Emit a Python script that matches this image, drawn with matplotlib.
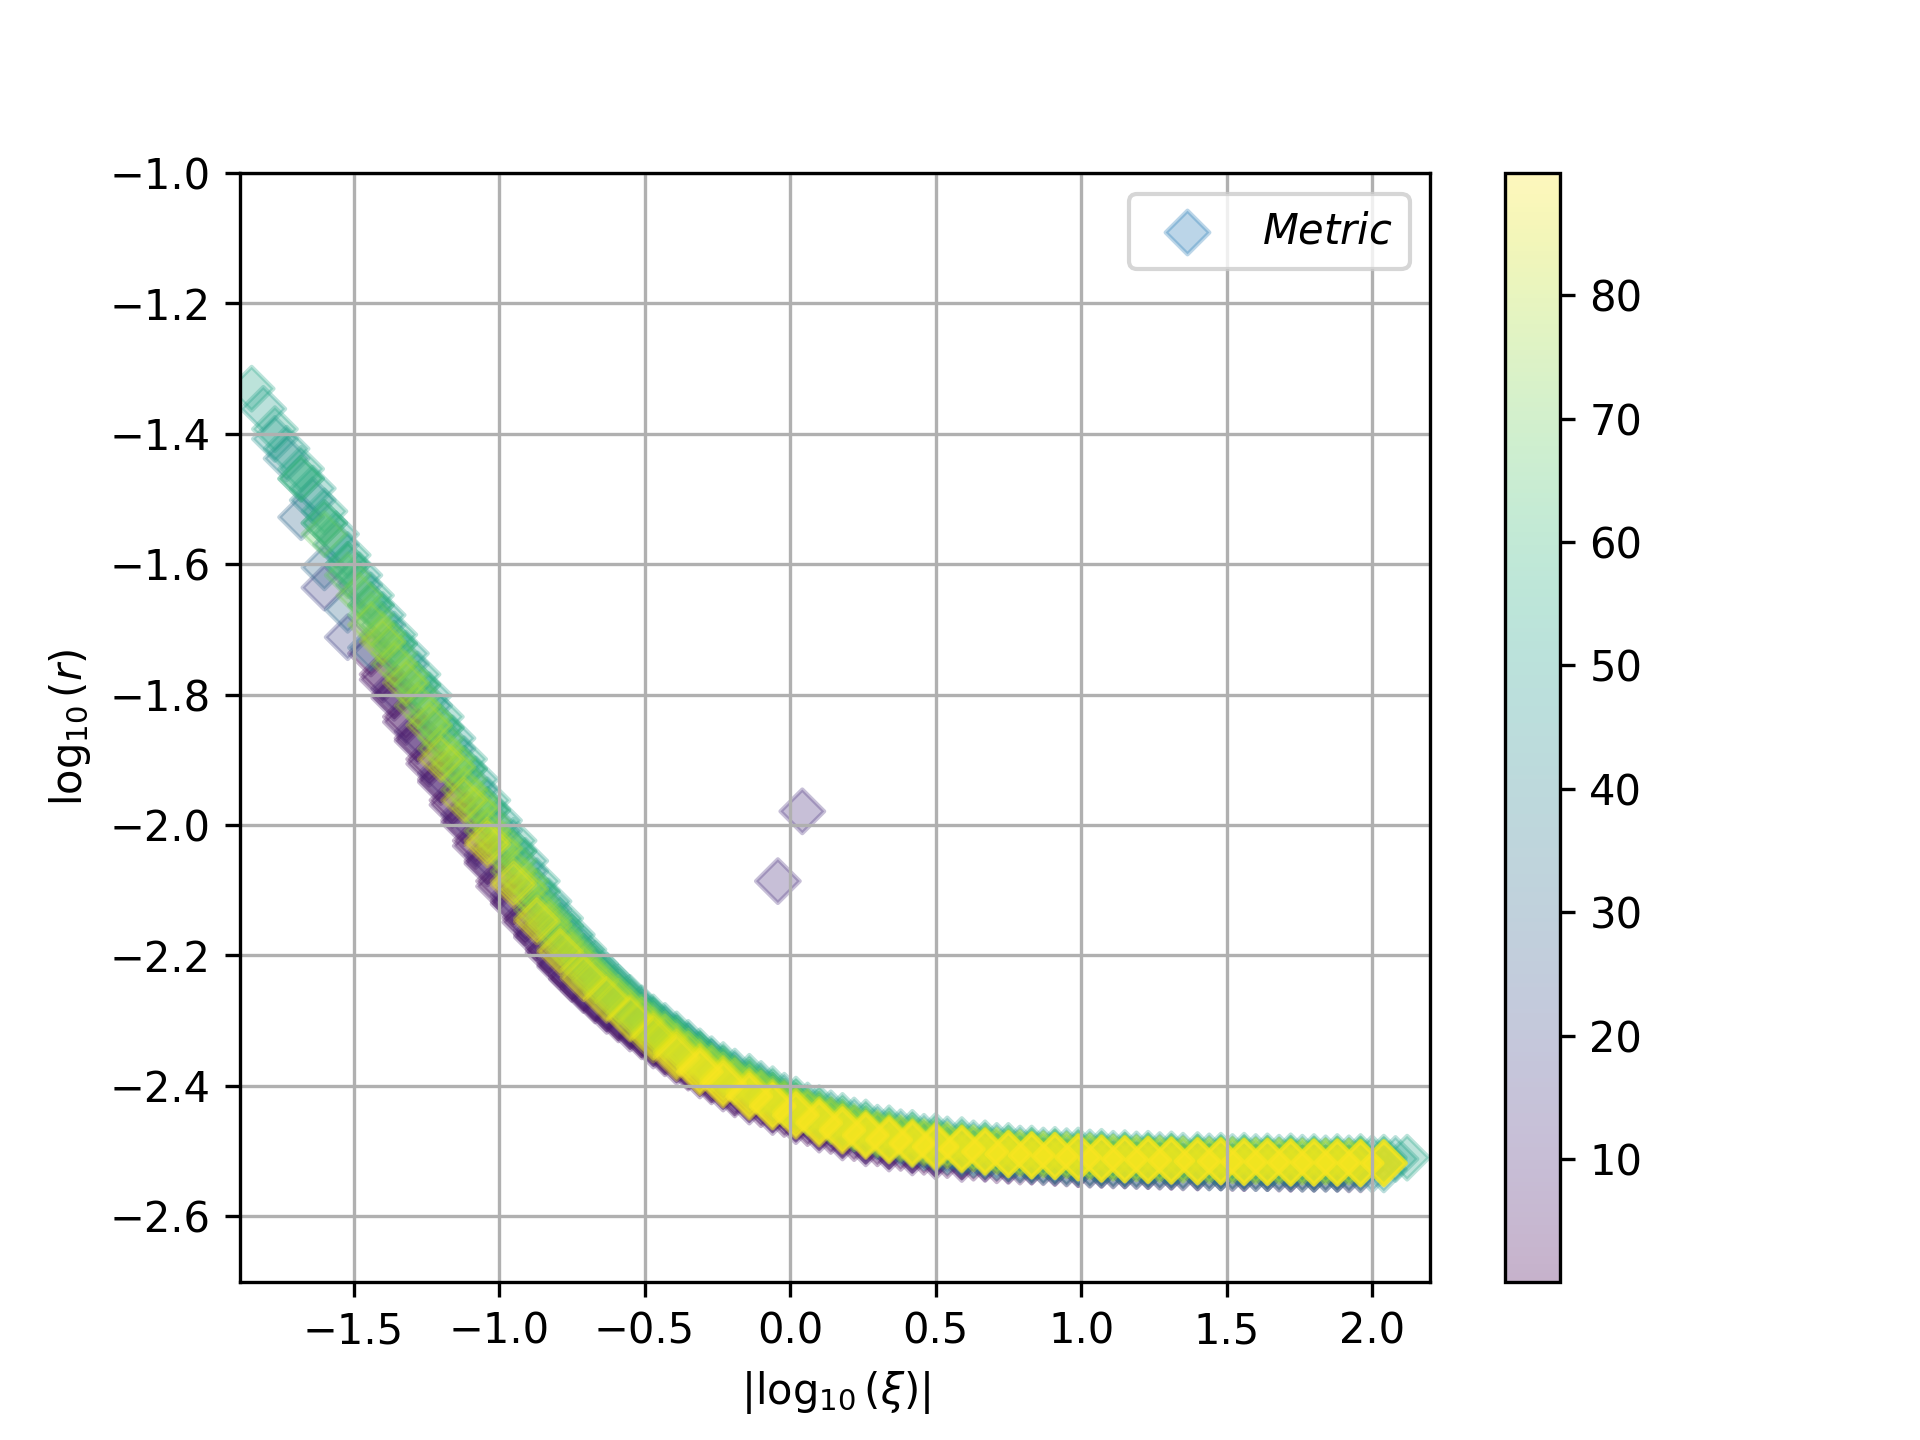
import numpy as np
import matplotlib.pyplot as plt

# |log10(xi)| sample points; XI_HALF sits half a step to the right
XI = [-1.85, -1.77, -1.68, -1.60, -1.52, -1.44, -1.36, -1.28, -1.20, -1.12,
      -1.04, -0.95, -0.87, -0.79, -0.71, -0.63, -0.55, -0.47, -0.39, -0.31,
      -0.23, -0.14, -0.06, 0.02, 0.10, 0.18, 0.26, 0.34, 0.42, 0.50,
      0.59, 0.67, 0.75, 0.83, 0.91, 0.99, 1.07, 1.15, 1.23, 1.31,
      1.40, 1.48, 1.56, 1.64, 1.72, 1.80, 1.88, 1.96, 2.04, 2.12]
XI_HALF = [-1.81, -1.73, -1.64, -1.56, -1.48, -1.40, -1.32, -1.24, -1.16, -1.08,
           -1.00, -0.91, -0.83, -0.75, -0.67, -0.59, -0.51, -0.43, -0.35, -0.27,
           -0.19, -0.10, -0.02, 0.06, 0.14, 0.22, 0.30, 0.38, 0.46, 0.54,
           0.63, 0.71, 0.79, 0.87, 0.95, 1.03, 1.11, 1.19, 1.27, 1.35,
           1.44, 1.52, 1.60, 1.68, 1.76, 1.84, 1.92, 2.00, 2.08]

# log10(r) of each angle sweep (angle in degrees -> colour)
R_01 = [-1.769, -1.834, -1.899, -1.962, -2.024, -2.086, -2.143, -2.191, -2.231, -2.265,
        -2.295, -2.321, -2.347, -2.370, -2.390, -2.410, -2.428, -2.443, -2.457, -2.469,
        -2.480, -2.488, -2.495, -2.501, -2.506, -2.510, -2.514, -2.516, -2.517, -2.519,
        -2.521, -2.522, -2.523, -2.524, -2.525, -2.525, -2.526, -2.526, -2.527, -2.527,
        -2.527, -2.528]
R_03 = [-1.737, -1.801, -1.867, -1.930, -1.993, -2.055, -2.117, -2.168, -2.213, -2.249,
        -2.281, -2.308, -2.334, -2.359, -2.380, -2.400, -2.420, -2.436, -2.450, -2.463,
        -2.475, -2.484, -2.492, -2.498, -2.504, -2.508, -2.512, -2.515, -2.516, -2.518,
        -2.520, -2.521, -2.522, -2.523, -2.524, -2.525, -2.525, -2.526, -2.526, -2.527,
        -2.527, -2.527, -2.528]
R_04 = [-1.777, -1.842, -1.906, -1.969, -2.032, -2.094, -2.149, -2.196, -2.236, -2.269,
        -2.298, -2.324, -2.350, -2.372, -2.393, -2.413]
R_06 = [-1.805, -1.871, -1.934, -1.997, -2.059, -2.121, -2.172, -2.217, -2.253, -2.285,
        -2.312, -2.338, -2.363, -2.384, -2.404, -2.424, -2.440, -2.454, -2.467, -2.479,
        -2.488, -2.496, -2.502, -2.508, -2.512]
R_09 = [-1.791, -1.857, -1.921, -1.984, -2.046, -2.108, -2.160, -2.206, -2.244, -2.276,
        -2.304, -2.330, -2.355, -2.377, -2.397, -2.417, -2.434, -2.448, -2.461, -2.473,
        -2.483, -2.491, -2.497, -2.503, -2.507, -2.511, -2.514, -2.516, -2.518, -2.520,
        -2.521, -2.522, -2.523, -2.524, -2.525, -2.525, -2.526, -2.526, -2.527, -2.527,
        -2.527]
R_18 = [-1.636, -1.712]
R_30 = [-1.528, -1.605, -1.670, -1.728]
R_40 = [-1.438, -1.502, -1.570, -1.632, -1.693, -1.753, -1.817, -1.883, -1.946, -2.009,
        -2.071, -2.130, -2.179, -2.222, -2.257, -2.288, -2.315, -2.340, -2.364, -2.385,
        -2.405, -2.424, -2.440, -2.453, -2.466, -2.477, -2.486, -2.494, -2.500, -2.505,
        -2.509, -2.513, -2.516, -2.518, -2.520, -2.521, -2.522, -2.523, -2.524, -2.525,
        -2.525, -2.526, -2.526, -2.527, -2.527, -2.527, -2.528]
R_46 = [-1.408, -1.469, -1.537, -1.601, -1.663, -1.722, -1.785, -1.851, -1.914, -1.977,
        -2.040, -2.102, -2.155, -2.202, -2.240, -2.273, -2.301, -2.328, -2.353, -2.375,
        -2.395, -2.415, -2.432, -2.447, -2.460, -2.472, -2.482, -2.490, -2.497, -2.503,
        -2.507, -2.511, -2.514, -2.516, -2.518, -2.520, -2.521, -2.522, -2.523, -2.524,
        -2.525, -2.525, -2.526, -2.526, -2.527, -2.527, -2.527, -2.528]
R_50 = [-1.362, -1.423, -1.484, -1.554, -1.617, -1.678, -1.737, -1.801, -1.867, -1.930,
        -1.993, -2.055, -2.117, -2.168, -2.213, -2.249, -2.281, -2.308, -2.334, -2.359,
        -2.378, -2.397, -2.415, -2.430, -2.442, -2.453, -2.464, -2.471, -2.478, -2.482,
        -2.488, -2.492, -2.496, -2.499, -2.500, -2.502, -2.504, -2.505, -2.506, -2.507,
        -2.508, -2.509, -2.509, -2.510, -2.510, -2.511, -2.511, -2.511, -2.512]
R_53 = [-1.331, -1.393, -1.454, -1.519, -1.586, -1.648, -1.708, -1.769, -1.834, -1.899,
        -1.962, -2.024, -2.086, -2.143, -2.191, -2.231, -2.265, -2.295, -2.321, -2.347,
        -2.368, -2.386, -2.405, -2.421, -2.434, -2.446, -2.456, -2.465, -2.472, -2.477,
        -2.483, -2.488, -2.492, -2.496, -2.498, -2.499, -2.501, -2.503, -2.504, -2.505,
        -2.506, -2.507, -2.507, -2.508, -2.508, -2.509, -2.509, -2.509, -2.510, -2.510]
R_61 = [-1.469, -1.537, -1.601, -1.663, -1.722, -1.785, -1.851, -1.914, -1.977, -2.040,
        -2.102, -2.155, -2.202, -2.240, -2.273, -2.301, -2.328, -2.353, -2.374, -2.392,
        -2.411, -2.426, -2.440, -2.452, -2.462, -2.471, -2.477, -2.483, -2.489, -2.493,
        -2.497, -2.500, -2.502, -2.504, -2.506, -2.507, -2.508, -2.509, -2.510, -2.511,
        -2.511, -2.512, -2.512, -2.513, -2.513, -2.513, -2.514]
R_68 = [-1.554, -1.617, -1.678, -1.737, -1.801, -1.867, -1.930, -1.993, -2.055, -2.117,
        -2.168, -2.213, -2.249, -2.281, -2.308, -2.334, -2.359, -2.379, -2.398, -2.416,
        -2.431, -2.444, -2.456, -2.467, -2.474, -2.481, -2.486, -2.492, -2.496, -2.500,
        -2.503, -2.504, -2.506, -2.508, -2.509, -2.510, -2.511, -2.512, -2.513, -2.513,
        -2.514, -2.514, -2.515, -2.515, -2.515]
R_72 = [-1.648, -1.708, -1.769, -1.834, -1.899, -1.962, -2.024, -2.086, -2.143, -2.191,
        -2.231, -2.265, -2.295, -2.321, -2.347, -2.370, -2.389, -2.408, -2.425, -2.439,
        -2.451, -2.462, -2.472, -2.479, -2.485, -2.490, -2.495, -2.499, -2.503, -2.505,
        -2.506, -2.508, -2.510, -2.511, -2.512, -2.513, -2.514, -2.514, -2.515, -2.515,
        -2.516, -2.516, -2.516]
R_76 = [-1.693, -1.753, -1.817, -1.883, -1.946, -2.009, -2.071, -2.130, -2.179, -2.222,
        -2.257, -2.288, -2.315, -2.340, -2.364, -2.384, -2.403, -2.421, -2.435, -2.448,
        -2.459, -2.470, -2.477, -2.484, -2.489, -2.494, -2.498, -2.502, -2.505, -2.507,
        -2.509, -2.510, -2.511, -2.512, -2.513, -2.514, -2.514, -2.515, -2.515, -2.516,
        -2.516, -2.516, -2.517]
R_79 = [-1.719, -1.782, -1.847, -1.911, -1.974, -2.036, -2.098, -2.153, -2.200, -2.238,
        -2.271, -2.300, -2.326, -2.352, -2.374, -2.393, -2.412, -2.428, -2.441, -2.454,
        -2.465, -2.474, -2.481, -2.487, -2.491, -2.496, -2.500, -2.503, -2.505, -2.506,
        -2.508, -2.510, -2.511, -2.512, -2.513, -2.514, -2.514, -2.515, -2.515, -2.516,
        -2.516, -2.516]
R_83 = [-1.899, -1.962, -2.024, -2.086, -2.143, -2.191, -2.231, -2.265, -2.295, -2.321,
        -2.347, -2.370, -2.389, -2.408, -2.425, -2.439, -2.452, -2.463, -2.473, -2.480,
        -2.486, -2.491, -2.496, -2.500, -2.504, -2.506, -2.507, -2.509, -2.511, -2.512,
        -2.513, -2.514, -2.515, -2.515, -2.516, -2.516, -2.517, -2.517, -2.517, -2.518,
        -2.518]
R_85 = [-2.329, -2.354, -2.376, -2.395, -2.414, -2.430, -2.443, -2.455, -2.467, -2.475,
        -2.482, -2.488, -2.493, -2.496, -2.500, -2.504, -2.506, -2.507, -2.509, -2.511,
        -2.512, -2.513, -2.514, -2.515, -2.515, -2.516, -2.516, -2.517, -2.517, -2.517,
        -2.518, -2.518]
R_87 = [-2.030, -2.092, -2.148, -2.195, -2.235, -2.268, -2.297, -2.324, -2.349, -2.372,
        -2.391, -2.410, -2.427, -2.440, -2.453, -2.464, -2.473, -2.481, -2.487, -2.492,
        -2.496, -2.500, -2.504, -2.506, -2.507, -2.509, -2.511, -2.512, -2.513, -2.514,
        -2.515, -2.515, -2.516, -2.516, -2.517, -2.517, -2.517, -2.518, -2.518]
R_88 = [-2.378, -2.397, -2.416, -2.431, -2.445, -2.457, -2.468, -2.476, -2.483, -2.488,
        -2.493, -2.497, -2.501, -2.505, -2.507, -2.508, -2.510, -2.512, -2.513, -2.514,
        -2.515, -2.516, -2.516, -2.517, -2.517, -2.518, -2.518, -2.518, -2.519, -2.519]
R_89 = [-2.357, -2.379, -2.398, -2.417, -2.432, -2.446, -2.458, -2.469, -2.477, -2.484,
        -2.490, -2.495, -2.498, -2.502, -2.505, -2.507, -2.508, -2.510, -2.512, -2.513,
        -2.514, -2.515, -2.516, -2.516, -2.517, -2.517, -2.518, -2.518, -2.518, -2.519,
        -2.519]

# (angle, grid, first grid index, values)
SWEEPS = [(1.0, XI_HALF, 5, R_01), (3.0, XI, 5, R_03), (4.5, XI_HALF, 5, R_04),
          (6.0, XI, 6, R_06), (9.0, XI, 6, R_09), (18.0, XI, 3, R_18),
          (30.0, XI, 2, R_30), (40.0, XI_HALF, 1, R_40), (46.0, XI, 1, R_46),
          (50.0, XI_HALF, 0, R_50), (53.0, XI, 0, R_53), (61.0, XI, 2, R_61),
          (68.0, XI, 3, R_68), (72.0, XI_HALF, 4, R_72), (76.0, XI, 5, R_76),
          (79.0, XI_HALF, 5, R_79), (83.0, XI, 8, R_83), (85.5, XI, 17, R_85),
          (87.0, XI, 10, R_87), (88.5, XI, 19, R_88), (89.5, XI, 18, R_89)]

# two stray points
OUT_X = [-0.042, 0.042]
OUT_Y = [-2.086, -1.979]
OUT_ANG = [12.0, 12.0]

MARKER_SIZE = 55

xs, ys, cs = list(OUT_X), list(OUT_Y), list(OUT_ANG)
for ang, grid, start, r in SWEEPS:
    xs += grid[start:start + len(r)]
    ys += r
    cs += [ang] * len(r)
x = np.array(xs)
y = np.array(ys)
c = np.array(cs)
order = np.argsort(c, kind='stable')  # draw low angles first

fig = plt.figure(figsize=(6.4, 4.8), dpi=300)
sc = plt.scatter(x[order], y[order], c=c[order], marker='D', s=MARKER_SIZE,
                 alpha=0.3, cmap='viridis', vmin=0.1, vmax=89.9)
plt.colorbar(sc)
# legend entry in the default colour, like the original
plt.scatter([], [], marker='D', s=MARKER_SIZE, color='C0', alpha=0.3, label='$Metric$')
plt.xlim(-1.89, 2.2)
plt.ylim(-2.7, -1.0)
plt.grid(True)
plt.xlabel(r'$|\log_{10}(\xi)|$')
plt.ylabel(r'$\log_{10}(r)$')
plt.legend(loc='upper right')
plt.savefig('out.png', dpi=300)
